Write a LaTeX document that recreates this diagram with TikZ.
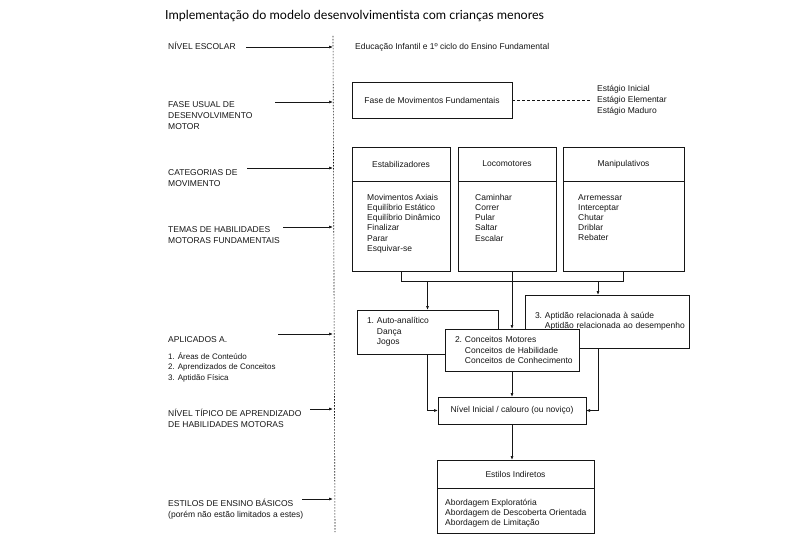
\documentclass[tikz,border=0pt]{standalone}
\usepackage{fontspec}
\setmainfont{Liberation Sans}
\newfontfamily\titlefont{Lato}
\usepackage{xcolor}
\usetikzlibrary{positioning, arrows.meta, calc}
\definecolor{inkblack}{HTML}{161616}

\tikzset{
  lbl/.style={anchor=base west, align=left, inner sep=0pt, text=inkblack,
              font=\fontsize{8.5}{10.8}\selectfont},
  items/.style={anchor=north west, align=left, inner sep=0pt, text=inkblack,
              font=\fontsize{8.5}{10.2}\selectfont},
  box/.style={draw=inkblack, line width=0.8pt, fill=white, inner sep=0pt, outer sep=0pt,
              text=inkblack, font=\fontsize{8.5}{10.4}\selectfont},
  txtbox/.style={box, inner xsep=10pt, align=left},
  conn/.style={draw=inkblack, line width=0.7pt, -{Latex[length=4pt,width=3pt]}},
  wire/.style={draw=inkblack, line width=0.7pt}
}

\begin{document}
\begin{tikzpicture}[x=1pt, y=-1pt]
  \useasboundingbox[fill=white] (0,0) rectangle (810,540);

  % title
  \node[anchor=base west, inner sep=0pt, font=\titlefont\fontsize{12.5}{14}\selectfont]
    (title) at (165,19.5) {Implementação do modelo desenvolvimentista com crianças menores};

  % dotted axis
  \coordinate (axtop) at (333,36);
  \coordinate (axbot) at (335,532);
  \draw[inkblack, line width=0.6pt, dash pattern=on 1.5pt off 1.5pt] (axtop) -- (axbot);

  % left column (base = last line)
  \node[lbl] (nivel) at (168,50) {NÍVEL ESCOLAR};
  \node[lbl, font=\fontsize{8.5}{11}\selectfont] (fase-l) at (168,130) {FASE USUAL DE\\DESENVOLVIMENTO\\MOTOR};
  \node[lbl] (categ-l) at (168,186) {CATEGORIAS DE\\MOVIMENTO};
  \node[lbl] (temas-l) at (168,243.7) {TEMAS DE HABILIDADES\\MOTORAS FUNDAMENTAIS};
  \node[lbl] (aplic-l) at (168,342) {APLICADOS A.};
  \node[lbl, font=\fontsize{8}{10.5}\selectfont] (areas-l) at (168,380)
    {1. Áreas de Conteúdo\\2. Aprendizados de Conceitos\\3. Aptidão Física};
  \node[lbl] (tipico-l) at (168,427) {NÍVEL TÍPICO DE APRENDIZADO\\DE HABILIDADES MOTORAS};
  \node[lbl] (estilos-l) at (168,517) {ESTILOS DE ENSINO BÁSICOS\\(porém não estão limitados a estes)};

  \coordinate (s1) at (246,47);
  \coordinate (s2) at (275,102);
  \coordinate (s3) at (247,168);
  \coordinate (s4) at (283,227);
  \coordinate (s5) at (278,334);
  \coordinate (s6) at (310,409);
  \coordinate (s7) at (302,499);
  \foreach \s in {s1,s2,s3,s4,s5,s6,s7}
    \draw[conn] (\s) -- (\s -| axtop);

  % school level and phase
  \node[lbl] (escola) at (355,50) {Educação Infantil e 1º ciclo do Ensino Fundamental};
  \node[box, minimum width=160, minimum height=36] (fase) at (432,100)
    {Fase de Movimentos Fundamentais};
  \node[lbl, anchor=west, font=\fontsize{8.5}{11}\selectfont] (stg) at (597,100)
    {Estágio Inicial\\Estágio Elementar\\Estágio Maduro};
  \draw[inkblack, line width=0.6pt, dash pattern=on 3pt off 2pt] (fase.east) -- ([xshift=-6pt]stg.west);

  % movement categories
  \node[box, minimum width=98, minimum height=34] (estH) at (401,164) {Estabilizadores};
  \node[box, minimum width=98, minimum height=90, below=0pt of estH] (estB) {};
  \node[box, minimum width=98, minimum height=34] (locH) at (507,164) {Locomotores};
  \node[box, minimum width=98, minimum height=90, below=0pt of locH] (locB) {};
  \node[box, minimum width=121, minimum height=34] (manH) at (623.5,164) {Manipulativos};
  \node[box, minimum width=121, minimum height=90, below=0pt of manH] (manB) {};

  \node[items] (estL) at ([xshift=15pt, yshift=-13pt]estB.north west)
    {Movimentos Axiais\\Equilíbrio Estático\\Equilíbrio Dinâmico\\Finalizar\\Parar\\Esquivar-se};
  \node[items] (locL) at ([xshift=17pt, yshift=-13pt]locB.north west)
    {Caminhar\\Correr\\Pular\\Saltar\\Escalar};
  \node[items] (manL) at ([xshift=15pt, yshift=-13pt]manB.north west)
    {Arremessar\\Interceptar\\Chutar\\Driblar\\Rebater};

  % applied to
  \node[txtbox, minimum width=141, minimum height=44, text width=121] (aut) at (427.5,332)
    {\mbox{1.\ Auto-analítico}\\\mbox{\phantom{1.\ }Dança}\\\mbox{\phantom{1.\ }Jogos}};
  \node[txtbox, minimum width=164, minimum height=53, text width=144] (apt) at (607,321.5)
    {\mbox{3.\ Aptidão relacionada à saúde}\\\mbox{\phantom{3.\ }Aptidão relacionada ao desempenho}\\[4pt]};
  \node[txtbox, minimum width=134, minimum height=42, text width=114] (con) at (512,350)
    {\mbox{2.\ Conceitos Motores}\\\mbox{\phantom{2.\ }Conceitos de Habilidade}\\\mbox{\phantom{2.\ }Conceitos de Conhecimento}};

  % level and styles
  \node[box, minimum width=148, minimum height=27] (niv) at (512,410.5)
    {Nível Inicial / calouro (ou noviço)};
  \node[box, minimum width=157, minimum height=28] (estiH) at (515.5,474) {Estilos Indiretos};
  \node[box, minimum width=157, minimum height=45, below=0pt of estiH] (estiB) {};
  \node[items, font=\fontsize{8.5}{10}\selectfont] (estiL) at ([xshift=8pt, yshift=-11pt]estiB.north west)
    {Abordagem Exploratória\\Abordagem de Descoberta Orientada\\Abordagem de Limitação};

  % connectors
  \coordinate (bus) at (0,281);
  \coordinate (apttop) at ([xshift=-9pt]apt.north);
  \coordinate (aptbot) at ([xshift=-9pt]apt.south);
  \draw[wire] (estB.south) -- (estB.south |- bus) -- (manB.south |- bus) -- (manB.south);
  \draw[conn] (aut.north |- bus) -- (aut.north);
  \draw[conn] (apttop |- bus) -- (apttop);
  \draw[conn] (locB.south -| con.north) -- (con.north);
  \draw[conn] (aut.south) |- (niv.west);
  \draw[conn] (aptbot) |- (niv.east);
  \draw[conn] (con.south) -- (niv.north);
  \draw[conn] (niv.south) -- (niv.south |- estiH.north);
\end{tikzpicture}
\end{document}
